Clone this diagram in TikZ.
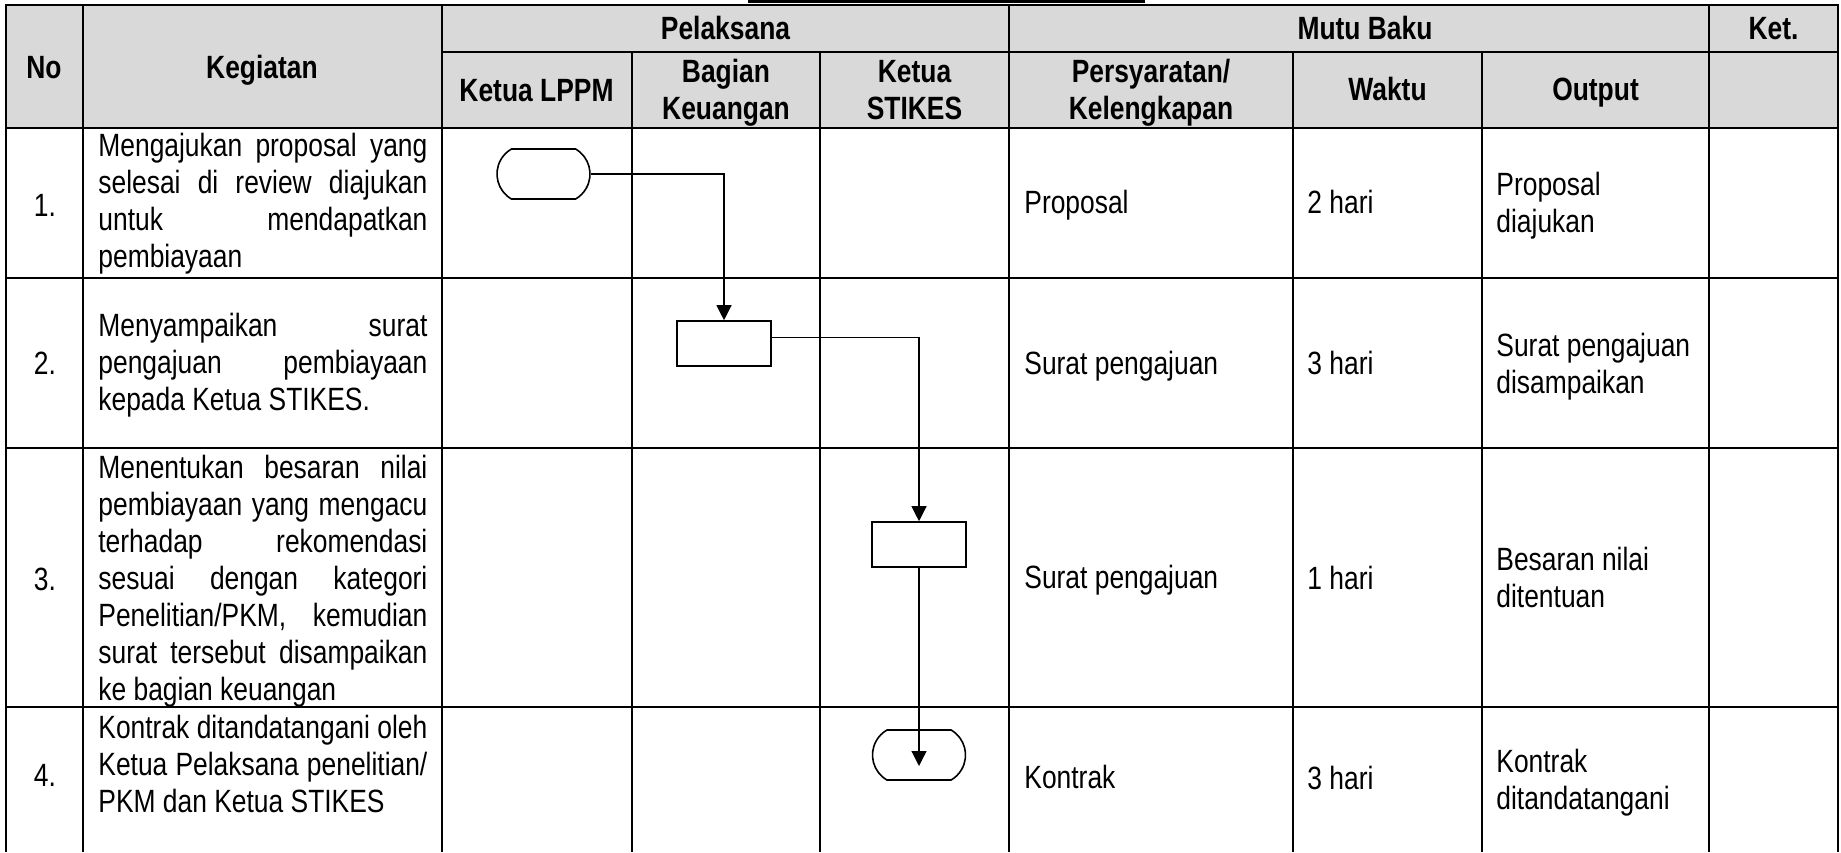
\documentclass[tikz,border=0pt]{standalone}
\usepackage{fontspec}
\setmainfont{Liberation Sans}[FakeStretch=0.82]
\usepackage{tikz}
\usetikzlibrary{positioning,shapes.misc,arrows.meta}

\definecolor{hdrgray}{RGB}{217,217,217}
\newcommand\tfont{\fontsize{16.1pt}{18.5pt}\selectfont\frenchspacing}
\newlength\kegw
\setlength\kegw{164.5pt}
% one justified line of the Kegiatan column, and its last line
\newcommand\kjust[1]{\hbox to \kegw{\spaceskip=\fontdimen2\font plus 1fil minus .4\fontdimen2\font\relax #1}}
\newcommand\klast[1]{\hbox{#1}}
\newcommand\keglines[1]{\vtop{\baselineskip=18.5pt #1}}
\newcommand\twoc[2]{\vtop{\baselineskip=18.5pt\halign{\hfil##\hfil\cr #1\cr #2\cr}}}
\newcommand\twol[2]{\vtop{\baselineskip=18.5pt\hbox{#1}\hbox{#2}}}

\begin{document}
\begin{tikzpicture}[x=0.5pt,y=-0.5pt,
  tline/.style={line width=1pt},
  hdr/.style={font=\tfont\bfseries, anchor=base, inner sep=0pt},
  num/.style={font=\tfont, anchor=base, inner sep=0pt},
  cell/.style={font=\tfont, anchor=base west, inner sep=0pt},
  term/.style={draw, line width=0.8pt, rounded rectangle, rounded rectangle arc length=120,
    minimum width=46.5pt, minimum height=25pt, inner sep=0pt},
  proc/.style={draw, line width=0.8pt, rectangle, minimum width=47pt, minimum height=22.5pt, inner sep=0pt},
  flow/.style={line width=0.6pt, -{Triangle[width=7.5pt,length=7.5pt]}}]
\useasboundingbox (0,0) rectangle (1841,852);

% title bar and header shading
\fill (748,0) rectangle (1145,3.3);
\fill[hdrgray] (5.5,5) rectangle (1838,128);

% table rules
\draw[tline] (5.5,852) -- (5.5,5) -- (1838,5) -- (1838,852);
\draw[tline] (442,52) -- (1838,52);
\draw[tline] (5.5,128) -- (1838,128);
\draw[tline] (5.5,278) -- (1838,278);
\draw[tline] (5.5,448) -- (1838,448);
\draw[tline] (5.5,707) -- (1838,707);
\draw[tline] (82.5,5) -- (82.5,852);
\draw[tline] (442,5) -- (442,852);
\draw[tline] (1009,5) -- (1009,852);
\draw[tline] (1709,5) -- (1709,852);
\draw[tline] (631.5,52) -- (631.5,852);
\draw[tline] (820,52) -- (820,852);
\draw[tline] (1293,52) -- (1293,852);
\draw[tline] (1482,52) -- (1482,852);

% header
\node[hdr] (hno) at (44,78) {No};
\node[hdr] (hkeg) at (262,78) {Kegiatan};
\node[hdr] (hpel) at (725.5,39) {Pelaksana};
\node[hdr] (hmutu) at (1365,39) {Mutu Baku};
\node[hdr] (hket) at (1773.5,39) {Ket.};
\node[hdr] (hlppm) at (536.5,101) {Ketua LPPM};
\node[hdr] (hbag) at (726,82) {\twoc{Bagian}{Keuangan}};
\node[hdr] (hstk) at (914.5,82) {\twoc{Ketua}{STIKES}};
\node[hdr] (hsyarat) at (1151,82) {\twoc{Persyaratan/}{Kelengkapan}};
\node[hdr] (hwaktu) at (1387.5,100) {Waktu};
\node[hdr] (hout) at (1595.5,100) {Output};

% No
\node[num] (n1) at (45,216) {1.};
\node[num] (n2) at (45,374) {2.};
\node[num] (n3) at (45,590) {3.};
\node[num] (n4) at (45,786) {4.};

% Kegiatan
\node[cell] (k1) at (98,156) {\keglines{\kjust{Mengajukan proposal yang}\kjust{selesai di review diajukan}\kjust{untuk mendapatkan}\klast{pembiayaan}}};
\node[cell] (k2) at (98,336) {\keglines{\kjust{Menyampaikan surat}\kjust{pengajuan pembiayaan}\klast{kepada Ketua STIKES.}}};
\node[cell] (k3) at (98,478) {\keglines{\kjust{Menentukan besaran nilai}\kjust{pembiayaan yang mengacu}\kjust{terhadap rekomendasi}\kjust{sesuai dengan kategori}\kjust{Penelitian/PKM, kemudian}\kjust{surat tersebut disampaikan}\klast{ke bagian keuangan}}};
\node[cell] (k4) at (98,738) {\keglines{\kjust{Kontrak ditandatangani oleh}\kjust{Ketua Pelaksana penelitian/}\klast{PKM dan Ketua STIKES}}};

% Mutu Baku
\node[cell] (s1) at (1024,213) {Proposal};
\node[cell] (s2) at (1024,374) {Surat pengajuan};
\node[cell] (s3) at (1024,588) {Surat pengajuan};
\node[cell] (s4) at (1024,788) {Kontrak};
\node[cell] (w1) at (1307,213) {2 hari};
\node[cell] (w2) at (1307,374) {3 hari};
\node[cell] (w3) at (1307,589) {1 hari};
\node[cell] (w4) at (1307,789) {3 hari};
\node[cell] (o1) at (1496,195) {\twol{Proposal}{diajukan}};
\node[cell] (o2) at (1496,356) {\twol{Surat pengajuan}{disampaikan}};
\node[cell] (o3) at (1496,570) {\twol{Besaran nilai}{ditentuan}};
\node[cell] (o4) at (1496,772) {\twol{Kontrak}{ditandatangani}};

% flow
\node[term] (t1) at (543.5,174) {};
\node[proc] (p2) at (724,343.5) {};
\node[proc] (p3) at (919,544.5) {};
\node[term] (t4) at (919,755) {};
\draw[flow] (t1.east) -| (p2.north);
\draw[flow] ([yshift=3pt]p2.east) -| (p3.north);
\draw[flow] (p3.south) -- ([yshift=-5.5pt]t4.center);
\end{tikzpicture}
\end{document}
